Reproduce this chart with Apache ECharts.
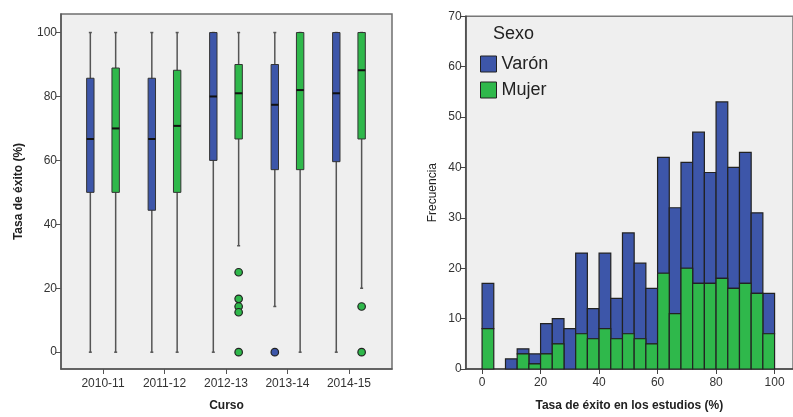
<!DOCTYPE html>
<html>
<head>
<meta charset="utf-8">
<script src="https://cdn.jsdelivr.net/npm/echarts@6/dist/echarts.min.js"></script>
<style>html,body{margin:0;padding:0;background:#fff}#c{width:793px;height:417px}</style>
</head>
<body>
<div id="c"></div>
<script>
// ---- Data: boxplot (Tasa de éxito por curso y sexo) ----
var cursos = ['2010-11', '2011-12', '2012-13', '2013-14', '2014-15'];
// [min, Q1, mediana, Q3, max]
var varonBox = [
  [0, 50, 66.7, 85.7, 100],
  [0, 44.4, 66.7, 85.7, 100],
  [0, 60, 80, 100, 100],
  [14.3, 57.1, 77.4, 90, 100],
  [0, 59.6, 81, 100, 100]
];
var mujerBox = [
  [0, 50, 70, 88.9, 100],
  [0, 50, 70.8, 88.2, 100],
  [33.3, 66.7, 81, 90, 100],
  [0, 57.1, 82, 100, 100],
  [20, 66.7, 88.2, 100, 100]
];
// [índice de curso, valor]
var varonOutliers = [[3, 0]];
var mujerOutliers = [[2, 25], [2, 16.7], [2, 14.3], [2, 12.5], [2, 0], [4, 14.3], [4, 0]];
var boxTicks = [0, 20, 40, 60, 80, 100];

// ---- Data: histograma (Frecuencia) ----
var binStart = [0, 4, 8, 12, 16, 20, 24, 28, 32, 36, 40, 44, 48, 52, 56, 60, 64, 68, 72, 76, 80, 84, 88, 92, 96];
var binWidth = 4;
var mujerFreq = [8, 0, 0, 3, 1, 3, 5, 0, 7, 6, 8, 6, 7, 6, 5, 19, 11, 20, 17, 17, 18, 16, 17, 15, 7];
var varonFreq = [9, 0, 2, 1, 2, 6, 5, 8, 16, 6, 15, 8, 20, 15, 11, 23, 21, 21, 30, 22, 35, 24, 26, 16, 8];
var histXTicks = [0, 20, 40, 60, 80, 100];

var BLUE = '#3d56a9', GREEN = '#2fb84b';
var FONT = 'Liberation Sans, Arial, sans-serif';
var OFFSET = 0.206; // horizontal offset of each sex's box within a course

function boxData(arr, off) {
  return arr.map(function (b, i) { return [i + off, b[0], b[1], b[2], b[3], b[4]]; });
}
function outData(arr, off) {
  return arr.map(function (o) { return [o[0] + off, o[1]]; });
}
function renderBox(color) {
  return function (params, api) {
    var x = api.value(0);
    var pMin = api.coord([x, api.value(1)]);
    var pQ1 = api.coord([x, api.value(2)]);
    var pMed = api.coord([x, api.value(3)]);
    var pQ3 = api.coord([x, api.value(4)]);
    var pMax = api.coord([x, api.value(5)]);
    var hw = 3.7, cw = 1.5, cx = pMin[0];
    var ws = { stroke: '#555', lineWidth: 1.5 };
    return {
      type: 'group',
      children: [
        { type: 'line', shape: { x1: cx, y1: pMax[1], x2: cx, y2: pMin[1] }, style: ws },
        { type: 'line', shape: { x1: cx - cw, y1: pMax[1], x2: cx + cw, y2: pMax[1] }, style: ws },
        { type: 'line', shape: { x1: cx - cw, y1: pMin[1], x2: cx + cw, y2: pMin[1] }, style: ws },
        { type: 'rect', shape: { x: cx - hw, y: pQ3[1], width: hw * 2, height: pQ1[1] - pQ3[1] },
          style: { fill: color, stroke: '#333', lineWidth: 1 } },
        { type: 'line', shape: { x1: cx - hw, y1: pMed[1], x2: cx + hw, y2: pMed[1] },
          style: { stroke: '#111', lineWidth: 2 } }
      ]
    };
  };
}
function histData(base, top) {
  return binStart.map(function (s, i) {
    var b = base ? base[i] : 0;
    return [s, s + binWidth, b, b + top[i]];
  });
}
function renderBar(params, api) {
  if (api.value(3) - api.value(2) <= 0) return null;
  var p0 = api.coord([api.value(0), api.value(2)]);
  var p1 = api.coord([api.value(1), api.value(3)]);
  return {
    type: 'rect',
    shape: { x: p0[0], y: p1[1], width: p1[0] - p0[0], height: p0[1] - p1[1] },
    style: api.style({ stroke: '#222', lineWidth: 1.2 })
  };
}

var labelStyle = { color: '#333', fontSize: 12, fontFamily: FONT };
var chart = echarts.init(document.getElementById('c'), null, { renderer: 'canvas' });
chart.setOption({
  animation: false,
  backgroundColor: '#fff',
  title: {
    text: 'Sexo', left: 493, top: 25, padding: 0,
    textStyle: { fontSize: 18, fontWeight: 'normal', color: '#222', fontFamily: FONT }
  },
  legend: {
    orient: 'vertical', left: 480, top: 55, padding: 0, itemWidth: 16, itemHeight: 16, itemGap: 8,
    icon: 'rect',
    data: [
      { name: 'Varón', itemStyle: { color: BLUE, borderColor: '#222', borderWidth: 1 } },
      { name: 'Mujer', itemStyle: { color: GREEN, borderColor: '#222', borderWidth: 1 } }
    ],
    textStyle: { fontSize: 18, color: '#222', fontFamily: FONT }
  },
  grid: [
    { left: 61, right: 401, top: 14, bottom: 44, show: true, backgroundColor: '#efefef', borderColor: '#6f6f6f', borderWidth: 1.5 },
    { left: 465.7, right: -12, top: 16.3, bottom: 43, show: true, backgroundColor: '#efefef', borderColor: '#777', borderWidth: 1.5 }
  ],
  xAxis: [
    {
      gridIndex: 0, type: 'value', min: -0.683, max: 4.70,
      name: 'Curso', nameLocation: 'middle', nameGap: 31,
      nameTextStyle: { fontSize: 12, fontWeight: 'bold', color: '#222', fontFamily: FONT },
      axisLine: { show: true, onZero: false, lineStyle: { color: '#555', width: 1.5 } },
      axisTick: { show: true, length: 5, customValues: [0, 1, 2, 3, 4], lineStyle: { color: '#555' } },
      axisLabel: Object.assign({ customValues: [0, 1, 2, 3, 4], margin: 9,
        formatter: function (v) { return cursos[Math.round(v)]; } }, labelStyle),
      splitLine: { show: false }
    },
    {
      gridIndex: 1, type: 'value', min: -5.6, max: 106.3,
      name: 'Tasa de éxito en los estudios (%)', nameLocation: 'middle', nameGap: 31,
      nameTextStyle: { fontSize: 12, fontWeight: 'bold', color: '#222', fontFamily: FONT },
      axisLine: { show: true, onZero: false, lineStyle: { color: '#444', width: 1.5 } },
      axisTick: { show: true, length: 5, customValues: histXTicks, lineStyle: { color: '#444' } },
      axisLabel: Object.assign({ customValues: histXTicks, margin: 8 }, labelStyle),
      splitLine: { show: false }
    }
  ],
  yAxis: [
    {
      gridIndex: 0, type: 'value', min: -5.26, max: 105.8,
      name: 'Tasa de éxito (%)', nameLocation: 'middle', nameGap: 36,
      nameTextStyle: { fontSize: 12, fontWeight: 'bold', color: '#222', fontFamily: FONT },
      axisLine: { show: true, onZero: false, lineStyle: { color: '#555', width: 1.5 } },
      axisTick: { show: true, length: 5, customValues: boxTicks, lineStyle: { color: '#555' } },
      axisLabel: Object.assign({ customValues: boxTicks, margin: 4 }, labelStyle),
      splitLine: { show: false }
    },
    {
      gridIndex: 1, type: 'value', min: 0, max: 70, interval: 10,
      name: 'Frecuencia', nameLocation: 'middle', nameGap: 27,
      nameTextStyle: { fontSize: 12, color: '#222', fontFamily: FONT },
      axisLine: { show: true, onZero: false, lineStyle: { color: '#444', width: 1.5 } },
      axisTick: { show: true, length: 5, lineStyle: { color: '#444' } },
      axisLabel: Object.assign({ margin: 4 }, labelStyle),
      splitLine: { show: false }
    }
  ],
  series: [
    { type: 'custom', name: 'VarónBox', xAxisIndex: 0, yAxisIndex: 0, renderItem: renderBox(BLUE),
      data: boxData(varonBox, -OFFSET), encode: { x: 0, y: [1, 2, 3, 4, 5] }, clip: false },
    { type: 'custom', name: 'MujerBox', xAxisIndex: 0, yAxisIndex: 0, renderItem: renderBox(GREEN),
      data: boxData(mujerBox, OFFSET), encode: { x: 0, y: [1, 2, 3, 4, 5] }, clip: false },
    { type: 'scatter', name: 'VarónOut', xAxisIndex: 0, yAxisIndex: 0, symbolSize: 7.5,
      itemStyle: { color: BLUE, borderColor: '#222', borderWidth: 1.2, opacity: 1 },
      data: outData(varonOutliers, -OFFSET), z: 5 },
    { type: 'scatter', name: 'MujerOut', xAxisIndex: 0, yAxisIndex: 0, symbolSize: 7.5,
      itemStyle: { color: GREEN, borderColor: '#222', borderWidth: 1.2, opacity: 1 },
      data: outData(mujerOutliers, OFFSET), z: 5 },
    { type: 'custom', name: 'Varón', xAxisIndex: 1, yAxisIndex: 1, renderItem: renderBar,
      itemStyle: { color: BLUE }, data: histData(mujerFreq, varonFreq), encode: { x: [0, 1], y: [2, 3] } },
    { type: 'custom', name: 'Mujer', xAxisIndex: 1, yAxisIndex: 1, renderItem: renderBar,
      itemStyle: { color: GREEN }, data: histData(null, mujerFreq), encode: { x: [0, 1], y: [2, 3] } }
  ]
});
</script>
</body>
</html>
